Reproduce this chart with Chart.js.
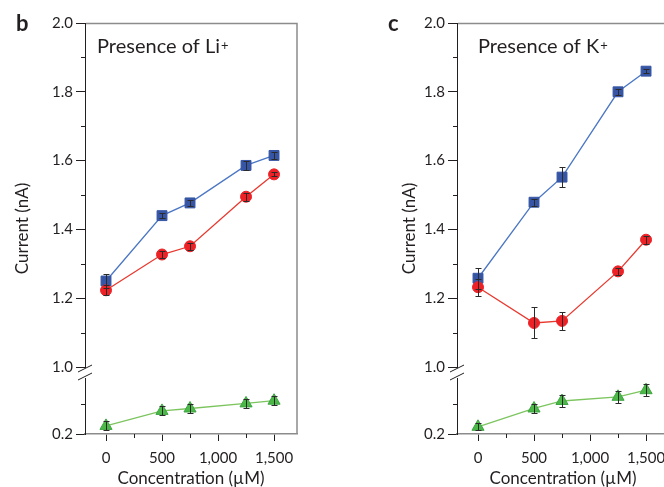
<!DOCTYPE html>
<html lang="en">
<head>
    <meta charset="UTF-8">
    <meta name="viewport" content="width=device-width, initial-scale=1.0">
    <title>Current vs concentration</title>
    <script src="https://cdn.jsdelivr.net/npm/chart.js"></script>
    <style>
        body { margin: 0; background: #ffffff; overflow: hidden; }
        .painel { position: absolute; top: 0; width: 330px; height: 487px; }
    </style>
</head>
<body>
    <div class="painel" style="left: 0px;"><canvas id="grafico_li"></canvas></div>
    <div class="painel" style="left: 372px;"><canvas id="grafico_k"></canvas></div>
<script>
    // concentration (uM), same for every series
    var concentracao = [0, 500, 750, 1250, 1500];

    // panel b - presence of Li+  (current in nA)
    var liAzul = [1.250, 1.440, 1.477, 1.586, 1.615];
    var liVermelho = [1.223, 1.327, 1.351, 1.495, 1.560];
    var liVerde = [0.227, 0.277, 0.285, 0.302, 0.311];
    var liAzulErro = [0.020, 0.008, 0.008, 0.012, 0.010];
    var liVermelhoErro = [0.015, 0.010, 0.010, 0.012, 0.006];
    var liVerdeErro = [0.015, 0.015, 0.015, 0.015, 0.015];

    // panel c - presence of K+
    var kAzul = [1.258, 1.479, 1.552, 1.800, 1.860];
    var kVermelho = [1.232, 1.128, 1.134, 1.278, 1.370];
    var kVerde = [0.224, 0.285, 0.310, 0.324, 0.346];
    var kAzulErro = [0.030, 0.010, 0.030, 0.008, 0.005];
    var kVermelhoErro = [0.025, 0.045, 0.027, 0.010, 0.012];
    var kVerdeErro = [0.012, 0.015, 0.020, 0.020, 0.020];

    // ticks (broken axis: upper part 1.0-2.0, lower part starts at 0.2)
    var ticksY = [1.0, 1.2, 1.4, 1.6, 1.8, 2.0];
    var ticksYMenor = [1.1, 1.3, 1.5, 1.7, 1.9];
    var ticksYBaixo = [0.2];
    var ticksYBaixoMenor = [0.3];
    var ticksX = [0, 500, 1000, 1500];
    var ticksXMenor = [250, 750, 1250];

    var escuro = '#231f20';
    var cinza = '#8c8c8c';
    Chart.defaults.font.family = 'Lato, "Open Sans", sans-serif';
    Chart.defaults.color = escuro;

    function pontos(valores) {
        return concentracao.map(function (c, i) { return { x: c, y: valores[i] }; });
    }

    function fixarTicks(lista) {
        return function (scale) {
            scale.ticks = lista.map(function (v) { return { value: v }; });
        };
    }

    // error bars, minor ticks, frame, axis break and texts
    var extras = {
        id: 'extras',
        afterDatasetsDraw: function (chart) {
            var ctx = chart.ctx;
            var x = chart.scales.x;
            ctx.save();
            ctx.strokeStyle = '#2a2a2a';
            ctx.lineWidth = 1;
            chart.data.datasets.forEach(function (ds) {
                var y = chart.scales[ds.yAxisID];
                ds.erro.forEach(function (e, i) {
                    var px = Math.round(x.getPixelForValue(ds.data[i].x)) + 0.5;
                    var y1 = Math.round(y.getPixelForValue(ds.data[i].y + e)) + 0.5;
                    var y2 = Math.round(y.getPixelForValue(ds.data[i].y - e)) + 0.5;
                    ctx.beginPath();
                    ctx.moveTo(px, y1); ctx.lineTo(px, y2);
                    ctx.moveTo(px - 3, y1); ctx.lineTo(px + 3, y1);
                    ctx.moveTo(px - 3, y2); ctx.lineTo(px + 3, y2);
                    ctx.stroke();
                });
            });
            ctx.restore();
        },
        afterDraw: function (chart, args, opts) {
            var ctx = chart.ctx;
            var area = chart.chartArea;
            var x = chart.scales.x;
            var yTop = chart.scales.yTop;
            var yBot = chart.scales.yBot;
            ctx.save();

            // grey frame top and right
            ctx.strokeStyle = cinza;
            ctx.lineWidth = 1.5;
            ctx.beginPath();
            ctx.moveTo(area.left + 1, area.top + 0.5);
            ctx.lineTo(area.right, area.top + 0.5);
            ctx.lineTo(area.right, area.bottom);
            ctx.stroke();

            // minor ticks
            ctx.strokeStyle = escuro;
            ctx.lineWidth = 1;
            ctx.beginPath();
            ticksYMenor.forEach(function (v) {
                var py = Math.round(yTop.getPixelForValue(v)) + 0.5;
                ctx.moveTo(area.left - 4, py); ctx.lineTo(area.left, py);
            });
            ticksYBaixoMenor.forEach(function (v) {
                var py = Math.round(yBot.getPixelForValue(v)) + 0.5;
                ctx.moveTo(area.left - 4, py); ctx.lineTo(area.left, py);
            });
            ticksXMenor.forEach(function (v) {
                var px = Math.round(x.getPixelForValue(v)) + 0.5;
                ctx.moveTo(px, area.bottom); ctx.lineTo(px, area.bottom + 4);
            });
            ctx.stroke();

            // axis break
            var quebra = yTop.bottom;
            ctx.fillStyle = '#ffffff';
            ctx.fillRect(area.left - 2, quebra + 1, 4, 10);
            ctx.beginPath();
            ctx.moveTo(area.left - 7, quebra + 5); ctx.lineTo(area.left + 7, quebra - 2);
            ctx.moveTo(area.left - 7, quebra + 13); ctx.lineTo(area.left + 7, quebra + 6);
            ctx.stroke();

            // panel letter
            ctx.fillStyle = escuro;
            ctx.font = 'bold 22px Lato';
            ctx.textBaseline = 'alphabetic';
            ctx.fillText(opts.letra, 16, 31);

            // panel title with superscript
            ctx.font = '20px Lato';
            var tx = area.left + opts.tituloDx;
            ctx.fillText(opts.titulo, tx, area.top + 30);
            var w = ctx.measureText(opts.titulo).width;
            ctx.font = '13px Lato';
            ctx.fillText('+', tx + w + 1, area.top + 27);

            // y title centred on the whole broken axis
            ctx.font = '17px Lato';
            ctx.translate(opts.tituloYx, (area.top + area.bottom) / 2);
            ctx.rotate(-Math.PI / 2);
            ctx.textAlign = 'center';
            ctx.textBaseline = 'middle';
            ctx.fillText('Current (nA)', 0, 0);
            ctx.restore();
        }
    };

    function criarGrafico(id, vermelho, azul, verde, erros, config) {
        return new Chart(id, {
            type: 'line',
            data: {
                datasets: [{
                    data: pontos(vermelho),
                    erro: erros[0],
                    yAxisID: 'yTop',
                    borderColor: '#e8382e',
                    borderWidth: 1.3,
                    backgroundColor: '#ec2227',
                    pointStyle: 'circle',
                    pointRadius: 5.5,
                    pointBorderWidth: 1,
                    pointBorderColor: '#ec2227'
                }, {
                    data: pontos(azul),
                    erro: erros[1],
                    yAxisID: 'yTop',
                    borderColor: '#4a76c4',
                    borderWidth: 1.3,
                    backgroundColor: '#3656a5',
                    pointStyle: 'rect',
                    pointRadius: 7,
                    pointBorderWidth: 1,
                    pointBorderColor: '#3656a5'
                }, {
                    data: pontos(verde),
                    erro: erros[2],
                    yAxisID: 'yBot',
                    borderColor: '#7cc55e',
                    borderWidth: 1.3,
                    backgroundColor: '#4cb848',
                    pointStyle: 'triangle',
                    pointRadius: 7,
                    pointBorderWidth: 1,
                    pointBorderColor: '#3ea543'
                }]
            },
            options: {
                responsive: true,
                maintainAspectRatio: false,
                animation: false,
                layout: { padding: { left: 0, right: 33, top: 23, bottom: 0 } },
                plugins: {
                    legend: { display: false },
                    tooltip: { enabled: false },
                    extras: config
                },
                scales: {
                    x: {
                        type: 'linear',
                        position: 'bottom',
                        min: -187.5,
                        max: 1705,
                        afterBuildTicks: fixarTicks(ticksX),
                        afterFit: function (s) { s.height = 53; s.paddingLeft = 0; s.paddingRight = 0; },
                        border: { color: cinza, width: 1.5 },
                        grid: { drawOnChartArea: false, tickLength: 7, tickColor: escuro },
                        ticks: {
                            autoSkip: false,
                            maxRotation: 0,
                            padding: 8,
                            font: { size: 15 },
                            callback: function (v) { return v.toLocaleString('en-US'); }
                        },
                        title: {
                            display: true,
                            text: 'Concentration (\u00b5M)',
                            font: { size: 17 },
                            padding: { top: 0, bottom: -2 }
                        }
                    },
                    // lower part first: stacked left axes are laid out bottom-up
                    yBot: {
                        type: 'linear',
                        position: 'left',
                        stack: 'corrente',
                        stackWeight: 67,
                        min: 0.2,
                        max: 0.4233,
                        afterBuildTicks: fixarTicks(ticksYBaixo),
                        afterFit: function (s) { s.width = 85; s.paddingTop = 0; s.paddingBottom = 0; },
                        border: { color: escuro, width: 1 },
                        grid: { drawOnChartArea: false, tickLength: 9, tickColor: escuro },
                        ticks: {
                            autoSkip: false,
                            padding: 3,
                            font: { size: 15 },
                            callback: function (v) { return v.toFixed(1); }
                        }
                    },
                    yTop: {
                        type: 'linear',
                        position: 'left',
                        stack: 'corrente',
                        stackWeight: 344,
                        min: 1.0,
                        max: 2.0,
                        afterBuildTicks: fixarTicks(ticksY),
                        afterFit: function (s) { s.width = 85; s.paddingTop = 0; s.paddingBottom = 0; },
                        border: { color: escuro, width: 1 },
                        grid: { drawOnChartArea: false, tickLength: 9, tickColor: escuro },
                        ticks: {
                            autoSkip: false,
                            padding: 3,
                            font: { size: 15 },
                            callback: function (v) { return v.toFixed(1); }
                        }
                    }
                }
            },
            plugins: [extras]
        });
    }

    criarGrafico('grafico_li', liVermelho, liAzul, liVerde,
        [liVermelhoErro, liAzulErro, liVerdeErro],
        { letra: 'b', titulo: 'Presence of Li', tituloDx: 12, tituloYx: 23 });

    criarGrafico('grafico_k', kVermelho, kAzul, kVerde,
        [kVermelhoErro, kAzulErro, kVerdeErro],
        { letra: 'c', titulo: 'Presence of K', tituloDx: 21, tituloYx: 38 });
</script>
</body>
</html>
